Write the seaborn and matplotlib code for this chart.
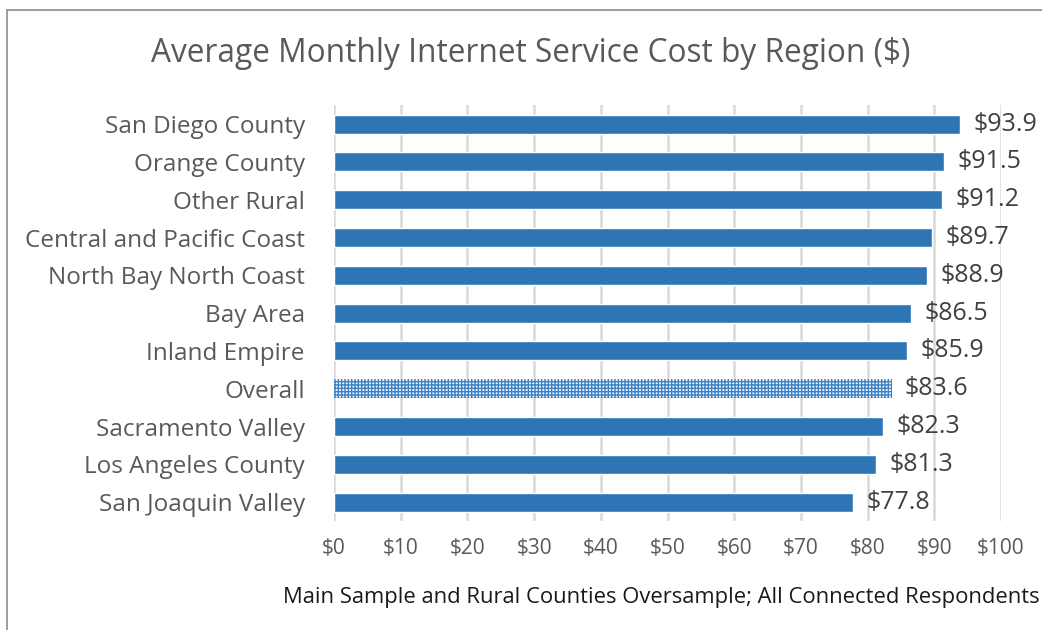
import matplotlib
matplotlib.use("Agg")
import matplotlib.pyplot as plt
import seaborn as sns
import pandas as pd
from matplotlib.lines import Line2D

# Datos del grafico
regiones = ["San Diego County", "Orange County", "Other Rural", "Central and Pacific Coast",
            "North Bay North Coast", "Bay Area", "Inland Empire", "Overall",
            "Sacramento Valley", "Los Angeles County", "San Joaquin Valley"]
costos = [93.9, 91.5, 91.2, 89.7, 88.9, 86.5, 85.9, 83.6, 82.3, 81.3, 77.8]
ticks_x = [0, 10, 20, 30, 40, 50, 60, 70, 80, 90, 100]
ticks_x_labels = ["$" + str(t) for t in ticks_x]

df = pd.DataFrame({"region": regiones, "costo": costos})

sns.set_theme(style="white")
plt.rcParams["font.family"] = ["Open Sans", "DejaVu Sans"]
plt.rcParams["hatch.linewidth"] = 1.0

fig = plt.figure(figsize=(10.42, 6.30), dpi=100)
ax = fig.add_axes([0.3205, 0.173, 0.6402, 0.66])

azul = "#2E75B6"
sns.barplot(data=df, x="costo", y="region", orient="h", color=azul,
            width=0.5, saturation=1, ax=ax, zorder=3)

# Barra "Overall" con trama
idx = regiones.index("Overall")
barra = ax.patches[idx]
barra.set_facecolor("#F2F7FC")
barra.set_edgecolor("#3F82C4")
barra.set_hatch("+++++")
barra.set_linewidth(0)

for i, v in enumerate(costos):
    ax.text(v + 2.0, i, f"${v}", va="center", ha="left", fontsize=18, color="#404040")

ax.set_xlim(0, 100)
ax.set_ylim(len(regiones) - 0.5, -0.5)
ax.set_xticks(ticks_x)
ax.set_xticklabels(ticks_x_labels)
ax.tick_params(axis="x", labelsize=15, colors="#595959", length=0, pad=12)
ax.tick_params(axis="y", labelsize=17.5, colors="#595959", length=0, pad=21)
ax.grid(axis="x", color="#D9D9D9", linewidth=1.8, zorder=0)
for s in ax.spines.values():
    s.set_visible(False)

ax.set_ylabel("")
ax.set_xlabel("Main Sample and Rural Counties Oversample; All Connected Respondents",
              fontsize=15.8, color="#1a1a1a")
ax.xaxis.set_label_coords(0.49, -0.158)
fig.suptitle("Average Monthly Internet Service Cost by Region ($)",
             fontsize=22.8, color="#595959", x=0.509, y=0.942)

# Borde del grafico
fig.add_artist(Line2D([7 / 1042, 7 / 1042], [0, 1 - 10 / 630], transform=fig.transFigure,
                      color="#8C8C8C", linewidth=1.2))
fig.add_artist(Line2D([7 / 1042, 1], [1 - 10 / 630, 1 - 10 / 630], transform=fig.transFigure,
                      color="#8C8C8C", linewidth=1.2))

fig.savefig("out.png", dpi=100)
